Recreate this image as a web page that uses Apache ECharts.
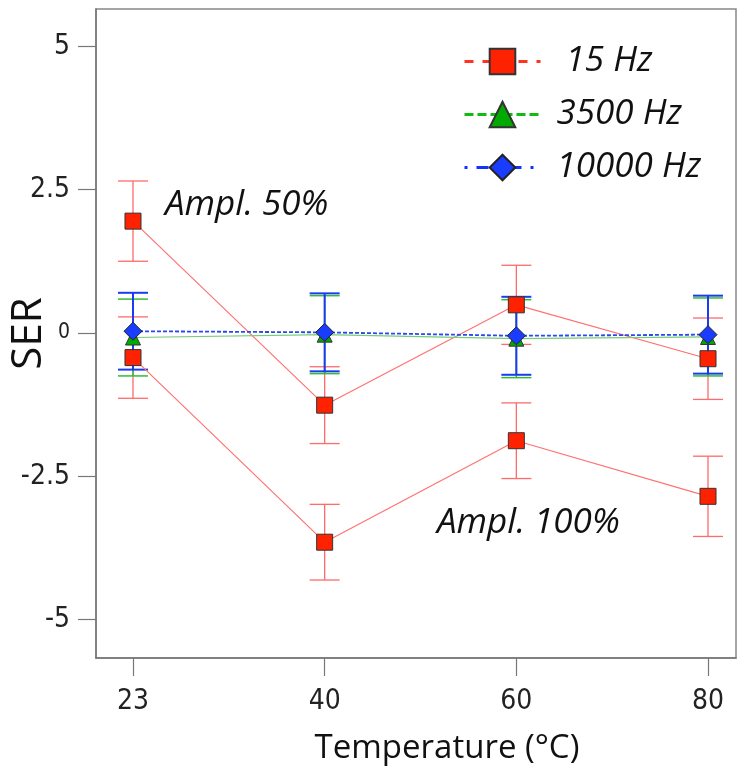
<!DOCTYPE html>
<html>
<head>
<meta charset="utf-8">
<script src="https://cdn.jsdelivr.net/npm/echarts@6/dist/echarts.min.js"></script>
<style>
html, body { margin: 0; padding: 0; background: #fff; }
#main { width: 737px; height: 774px; }
</style>
</head>
<body>
<div id="main"></div>
<script>
// data
var temps = ['23', '40', '60', '80'];
var yTicks = [-5, -2.5, 0, 2.5, 5];
var hz15a50 = [1.95, -1.26, 0.49, -0.45];
var hz15a50Err = [0.70, 0.67, 0.69, 0.71];
var hz15a100 = [-0.43, -3.65, -1.88, -2.85];
var hz15a100Err = [0.71, 0.66, 0.66, 0.70];
var hz3500 = [-0.08, -0.03, -0.10, -0.07];
var hz3500Err = [0.67, 0.68, 0.68, 0.68];
var hz10000 = [0.03, 0.01, -0.05, -0.03];
var hz10000Err = [0.67, 0.68, 0.68, 0.68];

var chart = echarts.init(document.getElementById('main'));

function toPoints(vals) {
    return vals.map(function (v, i) { return [i, v]; });
}

// vertical error bar with caps
function errorSeries(vals, errs, color, width) {
    return {
        type: 'custom',
        silent: true,
        data: vals.map(function (v, i) { return [i, v - errs[i], v + errs[i]]; }),
        encode: { x: 0, y: [1, 2] },
        renderItem: function (params, api) {
            var lo = api.coord([api.value(0), api.value(1)]);
            var hi = api.coord([api.value(0), api.value(2)]);
            var w = 15;
            var st = { stroke: color, lineWidth: width };
            return {
                type: 'group',
                children: [
                    { type: 'line', shape: { x1: lo[0], y1: lo[1], x2: hi[0], y2: hi[1] }, style: st },
                    { type: 'line', shape: { x1: lo[0] - w, y1: lo[1], x2: lo[0] + w, y2: lo[1] }, style: st },
                    { type: 'line', shape: { x1: hi[0] - w, y1: hi[1], x2: hi[0] + w, y2: hi[1] }, style: st }
                ]
            };
        }
    };
}

var tickFont = '"Liberation Sans Narrow", "DejaVu Sans Condensed", sans-serif';

var option = {
    animation: false,
    grid: {
        left: 96, top: 9, right: 1, bottom: 116,
        containLabel: false,
        outerBoundsMode: 'none',
        show: true, borderColor: '#888', borderWidth: 1.5
    },
    xAxis: {
        type: 'value',
        min: -0.193,
        max: 3.146,
        splitLine: { show: false },
        axisLine: { onZero: false, lineStyle: { color: '#777', width: 1.5 } },
        axisTick: { customValues: [0, 1, 2, 3], length: 18, lineStyle: { color: '#777', width: 1.2 } },
        axisLabel: {
            customValues: [0, 1, 2, 3],
            formatter: function (v) { return temps[v]; },
            margin: 30, fontSize: 28, color: '#222', fontFamily: tickFont
        },
        name: 'Temperature (°C)',
        nameLocation: 'middle',
        nameMoveOverlap: false,
        nameGap: 74,
        nameTextStyle: { fontSize: 33, color: '#111', fontFamily: 'Open Sans', padding: [0, 0, 0, 62] }
    },
    yAxis: {
        type: 'value',
        min: -5.67,
        max: 5.65,
        splitLine: { show: false },
        axisLine: { onZero: false, lineStyle: { color: '#777', width: 1.5 } },
        axisTick: { customValues: yTicks, length: 18, lineStyle: { color: '#777', width: 1.2 } },
        axisLabel: {
            customValues: yTicks,
            formatter: function (v) { return v === 0 ? '{z|0}' : String(v); },
            rich: { z: { fontSize: 21, fontFamily: tickFont, color: '#222' } },
            margin: 26, fontSize: 28, color: '#222', fontFamily: tickFont
        },
        name: 'SER',
        nameLocation: 'middle',
        nameMoveOverlap: false,
        nameRotate: 90,
        nameGap: 46,
        nameTextStyle: { fontSize: 42, color: '#111', fontFamily: 'Open Sans' }
    },
    legend: {
        orient: 'vertical',
        left: 458,
        top: 39,
        itemWidth: 76,
        itemHeight: 32,
        itemGap: 18,
        textStyle: { fontFamily: 'Open Sans', fontStyle: 'italic', fontSize: 35, color: '#111', padding: [0, 0, 0, 11] },
        formatter: function (name) { return name === '15 Hz' ? ' ' + name : name; },
        data: [
            { name: '15 Hz', lineStyle: { type: [9, 9], width: 3, color: '#ff3322' } },
            { name: '3500 Hz', lineStyle: { type: [9, 4], width: 3, color: '#11bb11' } },
            { name: '10000 Hz', lineStyle: { type: [3, 9, 12, 9], width: 3, color: '#1133ff' } }
        ]
    },
    graphic: [
        { type: 'text', left: 165, top: 188, style: { text: 'Ampl. 50%', font: 'italic 35px "Open Sans"', fill: '#111' } },
        { type: 'text', left: 437, top: 506, style: { text: 'Ampl. 100%', font: 'italic 35px "Open Sans"', fill: '#111' } }
    ],
    series: [
        errorSeries(hz15a50, hz15a50Err, '#ff6a6a', 1.3),
        errorSeries(hz15a100, hz15a100Err, '#ff6a6a', 1.3),
        errorSeries(hz3500, hz3500Err, '#33bb33', 1.5),
        errorSeries(hz10000, hz10000Err, '#1a3cf0', 2),
        {
            name: '15 Hz', type: 'line', data: toPoints(hz15a50),
            symbol: 'rect', symbolSize: 16,
            lineStyle: { color: '#ff7272', width: 1.2 },
            itemStyle: { color: '#ff2200', borderColor: '#333', borderWidth: 1 }
        },
        {
            name: '15 Hz', type: 'line', data: toPoints(hz15a100),
            symbol: 'rect', symbolSize: 16,
            lineStyle: { color: '#ff7272', width: 1.2 },
            itemStyle: { color: '#ff2200', borderColor: '#333', borderWidth: 1 }
        },
        {
            name: '3500 Hz', type: 'line', data: toPoints(hz3500),
            symbol: 'triangle', symbolSize: 15,
            lineStyle: { color: '#77cc77', width: 1.2 },
            itemStyle: { color: '#00aa00', borderColor: '#333', borderWidth: 1 }
        },
        {
            name: '10000 Hz', type: 'line', data: toPoints(hz10000),
            symbol: 'diamond', symbolSize: 18,
            lineStyle: { color: '#2a48f0', width: 1.8, type: [4, 2] },
            itemStyle: { color: '#1a3cff', borderColor: '#222', borderWidth: 1 }
        }
    ]
};

chart.setOption(option);
</script>
</body>
</html>
